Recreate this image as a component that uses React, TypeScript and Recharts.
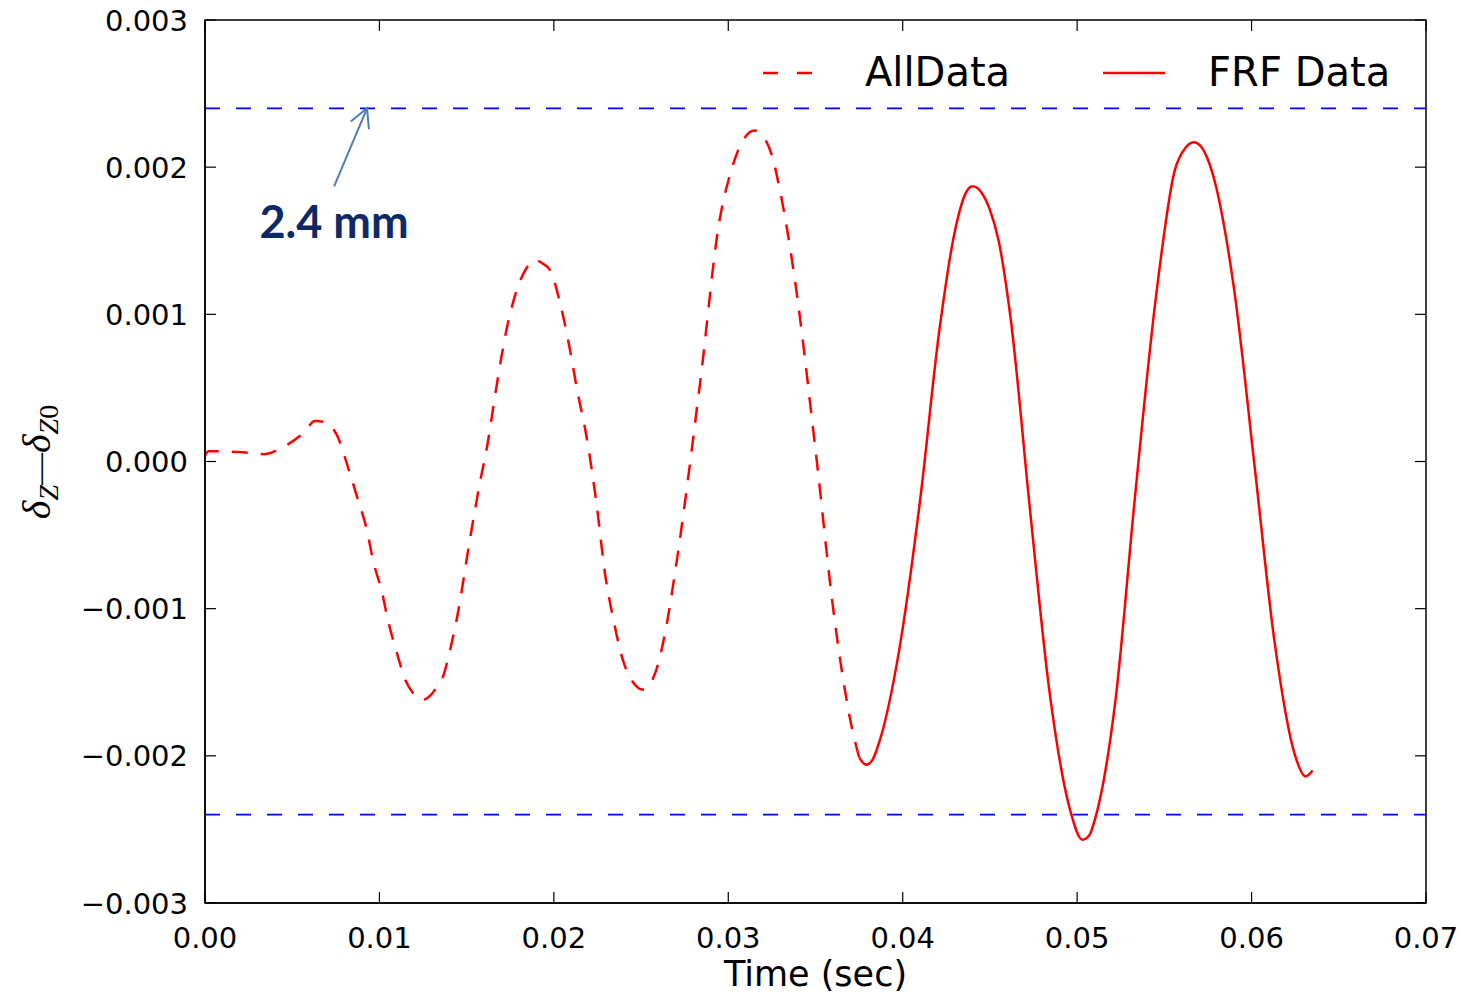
import React from 'react';
import {
  LineChart, Line, XAxis, YAxis, ReferenceLine, ReferenceArea, Legend,
} from 'recharts';

// sampled off the plot: time (s) and deflection (m)
const allTime = [
  0, 0.0002, 0.0019, 0.0034, 0.0045, 0.0057, 0.0063, 0.0068, 0.0076, 0.0082,
  0.00877, 0.00929, 0.00963, 0.01015, 0.01049, 0.011, 0.01147, 0.0119, 0.01244, 0.013,
  0.0133, 0.01365, 0.01405, 0.01445, 0.0152, 0.0158, 0.01617, 0.01674, 0.01731, 0.01789,
  0.01846, 0.0189, 0.0193, 0.01978, 0.02035, 0.02081, 0.02133, 0.0219, 0.02247, 0.02293,
  0.02339, 0.02396, 0.02454, 0.02511, 0.0258, 0.02637, 0.02694, 0.0284, 0.0295, 0.0301,
  0.0307, 0.031, 0.0315, 0.032, 0.0325, 0.033, 0.0338, 0.035, 0.0361, 0.037,
  0.0375,
];
const allValue = [
  0.00004, 0.00007, 0.000065, 0.00005, 0.0001, 0.0002, 0.000275, 0.00027, 0.00017, -0.00004,
  -0.00026, -0.00047, -0.00067, -0.00089, -0.00108, -0.0013, -0.00148, -0.00157, -0.00162, -0.00158,
  -0.00153, -0.00146, -0.00128, -0.00106, -0.00052, -0.00012, 0.0001, 0.00053, 0.00091, 0.00117,
  0.00132, 0.00137, 0.00135, 0.0013, 0.00108, 0.00083, 0.00049, 0.00015, -0.00031, -0.00076,
  -0.00106, -0.00135, -0.0015, -0.00155, -0.00144, -0.00117, -0.00076, 0.00055, 0.00164, 0.00195,
  0.00215, 0.00221, 0.00225, 0.00221, 0.00208, 0.00182, 0.00125, 0.00008, -0.00108, -0.00176,
  -0.00201,
];

const frfTime = [
  0.0375, 0.0379, 0.0383, 0.0387, 0.0398, 0.041, 0.0421, 0.043, 0.0436, 0.044,
  0.0445, 0.045, 0.0455, 0.0462, 0.0473, 0.0484, 0.0496, 0.0503, 0.0507, 0.051,
  0.0522, 0.0533, 0.0545, 0.0556, 0.0562, 0.0567, 0.0571, 0.0575, 0.058, 0.0585,
  0.059, 0.0602, 0.0613, 0.0625, 0.0631, 0.0635,
];
const frfValue = [
  -0.00201, -0.00206, -0.00202, -0.00189, -0.00128, -0.00026, 0.00089, 0.00157, 0.00182, 0.00187,
  0.00183, 0.00171, 0.0015, 0.00096, -0.00033, -0.00155, -0.00237, -0.00257, -0.00254, -0.00244,
  -0.00162, -0.00026, 0.0011, 0.00198, 0.00213, 0.00217, 0.00214, 0.00205, 0.00185, 0.00155,
  0.00117, -0.00006, -0.00121, -0.002, -0.00214, -0.0021,
];

const xTicks = [0, 0.01, 0.02, 0.03, 0.04, 0.05, 0.06, 0.07];
const yTicks = [-0.003, -0.002, -0.001, 0, 0.001, 0.002, 0.003];
const limits = [0.0024, -0.0024];

const arrowTail = { t: 0.0074, v: 0.00187 };
const arrowTip = { t: 0.00929, v: 0.0024 };
const arrowText = '2.4 mm';

const allData = allTime.map((t, i) => ({ t, v: allValue[i] }));
const frfData = frfTime.map((t, i) => ({ t, v: frfValue[i] }));

// plot box edges in px (follows from margin + axis sizes below)
const BOX = { left: 205, top: 20, right: 1426, bottom: 903 };
const TICK = 11;

const fmtX = (v: number) => v.toFixed(2);
const fmtY = (v: number) => v.toFixed(3).replace('-', '\u2212');

const XTick = ({ x, payload }: any) => (
  <g>
    <line x1={x} x2={x} y1={BOX.bottom} y2={BOX.bottom - TICK} stroke="#000" strokeWidth={1.2} />
    <line x1={x} x2={x} y1={BOX.top} y2={BOX.top + TICK} stroke="#000" strokeWidth={1.2} />
    <text x={x} y={BOX.bottom + 45} textAnchor="middle" fontFamily="DejaVu Sans" fontSize={29} fill="#000">
      {fmtX(payload.value)}
    </text>
  </g>
);

const YTick = ({ y, payload }: any) => (
  <g>
    <line x1={BOX.left} x2={BOX.left + TICK} y1={y} y2={y} stroke="#000" strokeWidth={1.2} />
    <line x1={BOX.right} x2={BOX.right - TICK} y1={y} y2={y} stroke="#000" strokeWidth={1.2} />
    <text x={BOX.left - 17} y={y + 10.5} textAnchor="end" fontFamily="DejaVu Sans" fontSize={29} fill="#000">
      {fmtY(payload.value)}
    </text>
  </g>
);

const ArrowShape = (p: any) => {
  const { x1, y1, x2, y2 } = p;
  const ang = Math.atan2(y1 - y2, x1 - x2);
  const len = 21;
  const da = (28 * Math.PI) / 180;
  const b1x = x2 + len * Math.cos(ang + da);
  const b1y = y2 + len * Math.sin(ang + da);
  const b2x = x2 + len * Math.cos(ang - da);
  const b2y = y2 + len * Math.sin(ang - da);
  return (
    <g>
      <line x1={x1} y1={y1} x2={x2} y2={y2} stroke="#4a7ebb" strokeWidth={2} />
      <polyline
        points={`${b1x},${b1y} ${x2},${y2} ${b2x},${b2y}`}
        fill="none"
        stroke="#4a7ebb"
        strokeWidth={2}
      />
      <text
        x={x1}
        y={y1 + 35}
        textAnchor="middle"
        dominantBaseline="central"
        fontFamily="Lato"
        fontWeight={700}
        fontSize={45}
        fill="#0e2a66"
      >
        {arrowText}
      </text>
    </g>
  );
};

const YLabel = () => (
  <text
    transform="rotate(-90, 50, 462)"
    x={50}
    y={462}
    textAnchor="middle"
    fontFamily="Liberation Serif"
    fontSize={40}
    fill="#000"
  >
    <tspan fontStyle="italic">δ</tspan>
    <tspan fontStyle="italic" fontSize={28} dy={8}>Z</tspan>
    <tspan fontSize={32} dy={-8}>—</tspan>
    <tspan fontStyle="italic">δ</tspan>
    <tspan fontStyle="italic" fontSize={28} dy={8}>Z</tspan>
    <tspan fontSize={28}>0</tspan>
  </text>
);

const XLabel = ({ viewBox }: any) => (
  <text
    x={viewBox.x + viewBox.width / 2}
    y={986}
    textAnchor="middle"
    fontFamily="DejaVu Sans"
    fontSize={35}
    fill="#000"
  >
    Time (sec)
  </text>
);

const LegendBox = () => (
  <div
    style={{
      display: 'flex',
      alignItems: 'center',
      fontFamily: 'DejaVu Sans',
      fontSize: 40,
      lineHeight: '40px',
      color: '#000',
      whiteSpace: 'nowrap',
    }}
  >
    <svg width={50} height={40}>
      <line x1={0} y1={21} x2={50} y2={21} stroke="#ff0000" strokeWidth={2.5} strokeDasharray="15 19" />
    </svg>
    <span style={{ marginLeft: 52 }}>AllData</span>
    <svg width={62} height={40} style={{ marginLeft: 93 }}>
      <line x1={0} y1={21} x2={62} y2={21} stroke="#ff0000" strokeWidth={2.5} />
    </svg>
    <span style={{ marginLeft: 43 }}>FRF Data</span>
  </div>
);

export default function App() {
  return (
    <div style={{ position: 'absolute', left: 0, top: 0, background: '#fff' }}>
      <LineChart width={1463} height={994} margin={{ top: 20, right: 37, bottom: 0, left: 0 }}>
        <XAxis
          type="number"
          dataKey="t"
          domain={[0, 0.07]}
          ticks={xTicks}
          height={91}
          tick={<XTick />}
          tickLine={false}
          axisLine={{ stroke: '#000', strokeWidth: 1.5 }}
          label={(props: any) => <XLabel {...props} />}
        />
        <YAxis
          type="number"
          domain={[-0.003, 0.003]}
          ticks={yTicks}
          width={205}
          tick={<YTick />}
          tickLine={false}
          axisLine={{ stroke: '#000', strokeWidth: 1.5 }}
          label={() => <YLabel />}
        />
        <ReferenceArea
          x1={0}
          x2={0.07}
          y1={-0.003}
          y2={0.003}
          fill="none"
          fillOpacity={0}
          stroke="#000"
          strokeWidth={1.5}
        />
        {limits.map((y) => (
          <ReferenceLine
            key={y}
            y={y}
            stroke="#0000ff"
            strokeWidth={1.8}
            strokeDasharray="15 16"
          />
        ))}
        <Line
          data={allData}
          dataKey="v"
          name="AllData"
          type="monotone"
          stroke="#ff0000"
          strokeWidth={2.5}
          strokeDasharray="16 13"
          dot={false}
          isAnimationActive={false}
        />
        <Line
          data={frfData}
          dataKey="v"
          name="FRF Data"
          type="monotone"
          stroke="#ff0000"
          strokeWidth={2.5}
          dot={false}
          isAnimationActive={false}
        />
        <ReferenceLine
          segment={[
            { x: arrowTail.t, y: arrowTail.v },
            { x: arrowTip.t, y: arrowTip.v },
          ]}
          shape={ArrowShape}
        />
        <Legend
          verticalAlign="middle"
          layout="horizontal"
          content={() => <LegendBox />}
          wrapperStyle={{ top: 52, left: 763, width: 'auto', height: 40 }}
        />
      </LineChart>
    </div>
  );
}
